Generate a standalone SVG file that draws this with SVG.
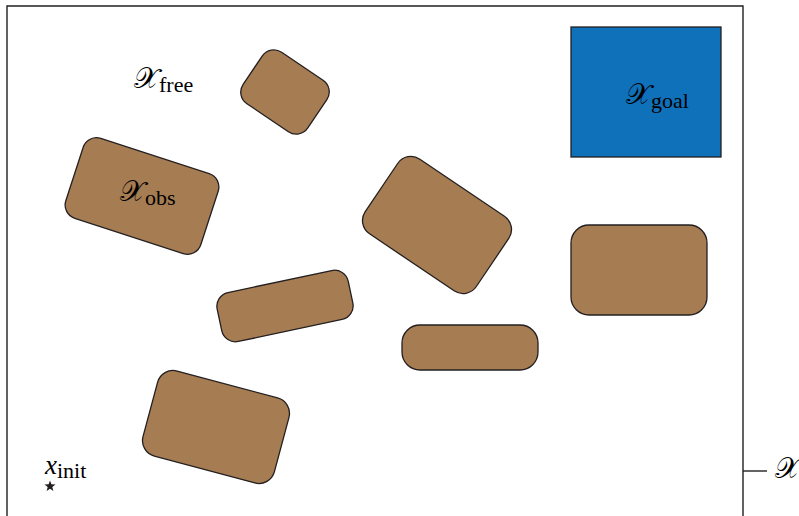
<svg xmlns="http://www.w3.org/2000/svg" width="799" height="516" viewBox="0 0 799 516">
<style>
.obs{fill:#a67c52;stroke:#231f20;stroke-width:1.3}
.lbl{font-family:"DejaVu Serif","Liberation Serif",serif;font-size:29px;fill:#000}
.sub{font-family:"Liberation Serif","DejaVu Serif",serif;font-size:22px;fill:#000}
.var{font-family:"Liberation Serif",serif;font-style:italic;font-size:27px;fill:#000}
</style>
<rect width="799" height="516" fill="#fff"/>
<g id="space">
<path d="M7,520 V6 H743 V520" fill="none" stroke="#231f20" stroke-width="1.4"/>
<line x1="743" y1="471" x2="767" y2="471" stroke="#231f20" stroke-width="1.4"/>
<text class="lbl" x="775" y="478" font-size="24">𝒳</text>
</g>
<g id="goal">
<rect x="571" y="27" width="150" height="130" fill="#1071bb" stroke="#231f20" stroke-width="1.3"/>
<text x="626" y="104"><tspan class="lbl">𝒳</tspan><tspan class="sub" dy="4">goal</tspan></text>
</g>
<g id="free"><text x="134" y="88"><tspan class="lbl">𝒳</tspan><tspan class="sub" dy="4">free</tspan></text></g>
<g id="obs1"><rect class="obs" x="-39" y="-31" width="78" height="62" rx="14" transform="translate(285,92) rotate(34)"/></g>
<g id="obs2"><rect class="obs" x="-71" y="-42" width="142" height="84" rx="14" transform="translate(142,196) rotate(18)"/>
<text x="120" y="201"><tspan class="lbl">𝒳</tspan><tspan class="sub" dy="4">obs</tspan></text></g>
<g id="obs3"><rect class="obs" x="-67" y="-45" width="134" height="90" rx="16" transform="translate(437,225) rotate(34)"/></g>
<g id="obs4"><rect class="obs" x="571" y="225" width="136" height="90" rx="18"/></g>
<g id="obs5"><rect class="obs" x="-67" y="-25" width="134" height="50" rx="14" transform="translate(285,306) rotate(-12)"/></g>
<g id="obs6"><rect class="obs" x="402" y="325" width="136" height="45" rx="18"/></g>
<g id="obs7"><rect class="obs" x="-68" y="-44" width="136" height="88" rx="16" transform="translate(216,427) rotate(15)"/></g>
<g id="init">
<text x="45" y="474"><tspan class="var">x</tspan><tspan class="sub" dy="4">init</tspan></text>
<polygon points="50,480.5 51.4,484.3 55.5,484.5 52.3,487 53.4,491 50,488.7 46.6,491 47.7,487 44.5,484.5 48.6,484.3" fill="#231f20"/>
</g>
</svg>
